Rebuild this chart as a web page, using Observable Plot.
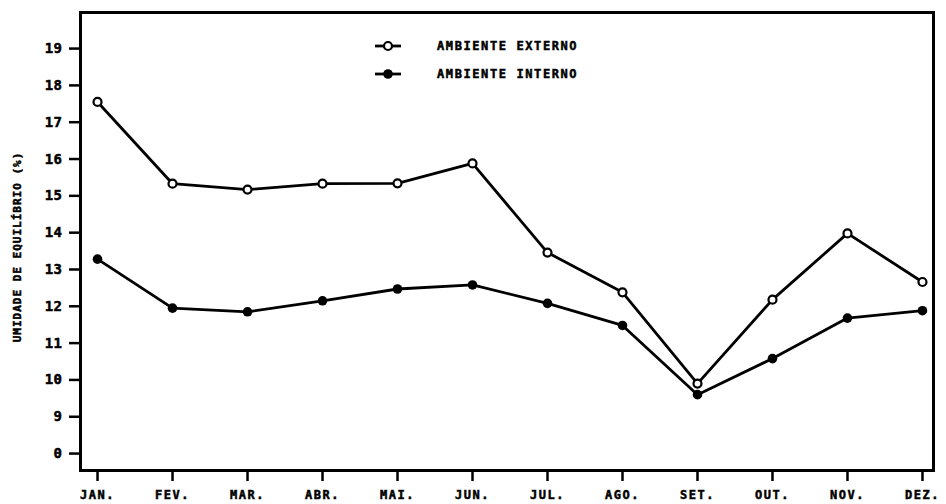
<!DOCTYPE html>
<html><head><meta charset="utf-8">
<script src="https://cdn.jsdelivr.net/npm/d3@7"></script>
<script src="https://cdn.jsdelivr.net/npm/@observablehq/plot@0.6"></script>
<style>
body{margin:0;background:#fff}
#wrap{position:relative;width:946px;height:504px}
#wrap svg text{font-family:"DejaVu Sans Mono",monospace;font-weight:bold;stroke:black;stroke-width:0.5px}
g[aria-label="x-axis tick label"] text{letter-spacing:1.5px}
g[aria-label="y-axis tick label"] text{letter-spacing:0.5px}
#overlay{position:absolute;left:0;top:0;pointer-events:none}
</style>
</head><body><div id="wrap"></div>
<script>
const months = ["JAN.","FEV.","MAR.","ABR.","MAI.","JUN.","JUL.","AGO.","SET.","OUT.","NOV.","DEZ."];
const externo = [17.55,15.33,15.17,15.33,15.34,15.88,13.46,12.38,9.9,12.18,13.98,12.66];
const interno = [13.28,11.95,11.85,12.15,12.47,12.58,12.08,11.48,9.6,10.58,11.68,11.88];
const seriesNames = ["AMBIENTE EXTERNO","AMBIENTE INTERNO"];
const yTicks = [8,9,10,11,12,13,14,15,16,17,18,19];
const yTickLabels = ["0","9","10","11","12","13","14","15","16","17","18","19"];
const yTitle = "UMIDADE DE EQUILÍBRIO (%)";

const data = months.flatMap((m, i) => [
  {i, v: externo[i], s: seriesNames[0]},
  {i, v: interno[i], s: seriesNames[1]}
]);

const plot = Plot.plot({
  width: 946, height: 504,
  marginLeft: 80, marginTop: 12, marginRight: 13, marginBottom: 34,
  style: {background: "white", color: "black"},
  x: {type: "linear", domain: [-0.227, 11.147], axis: null},
  y: {domain: [7.54, 19.98], axis: null},
  marks: [
    Plot.axisX(d3.range(months.length), {tickSize: 11, tickPadding: 9, tickFormat: i => months[i], fontSize: 12, strokeWidth: 2.5, label: null}),
    Plot.axisY(yTicks, {tickSize: 11, tickPadding: 7, tickFormat: d => yTickLabels[yTicks.indexOf(d)], fontSize: 14, strokeWidth: 2.5, label: null}),
    Plot.frame({strokeWidth: 3, stroke: "black"}),
    Plot.line(data, {x: "i", y: "v", z: "s", stroke: "black", strokeWidth: 2.8}),
    Plot.dot(data.filter(d => d.s === seriesNames[0]), {x: "i", y: "v", r: 4, fill: "white", stroke: "black", strokeWidth: 2.2}),
    Plot.dot(data.filter(d => d.s === seriesNames[1]), {x: "i", y: "v", r: 4.8, fill: "black"})
  ]
});
const wrap = document.getElementById("wrap");
wrap.appendChild(plot);

// overlay: legend and y-axis title
const ov = d3.select(wrap).append("svg").attr("id", "overlay").attr("width", 946).attr("height", 504);
const legY = [46, 74];
seriesNames.forEach((name, k) => {
  const g = ov.append("g").attr("transform", `translate(0,${legY[k]})`);
  g.append("line").attr("x1", 375).attr("x2", 401).attr("y1", 0).attr("y2", 0).attr("stroke", "black").attr("stroke-width", 2.8);
  g.append("circle").attr("cx", 388).attr("cy", 0).attr("r", k === 0 ? 4 : 4.8)
    .attr("fill", k === 0 ? "white" : "black").attr("stroke", "black").attr("stroke-width", k === 0 ? 2.2 : 0);
  g.append("text").attr("x", 437).attr("y", 0).attr("dy", "0.35em").attr("font-size", 12)
    .style("letter-spacing", "1.6px").text(name);
});
ov.append("text").attr("transform", "translate(17,247) rotate(-90)").attr("text-anchor", "middle")
  .attr("dy", "0.35em").attr("font-size", 11).style("letter-spacing", "1px").text(yTitle);
</script>
</body></html>
